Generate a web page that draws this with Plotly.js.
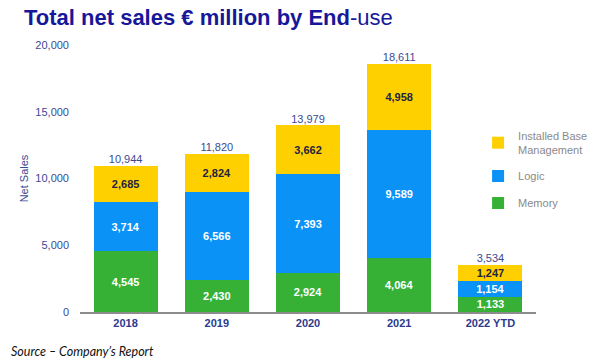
<!DOCTYPE html>
<html>
<head>
<meta charset="utf-8">
<script src="https://cdn.plot.ly/plotly-3.0.1.min.js"></script>
<style>html,body{margin:0;padding:0;background:#fff;}#chart{width:612px;height:363px;}</style>
</head>
<body>
<div id="chart"></div>
<script>
const categories = ["2018", "2019", "2020", "2021", "2022 YTD"];
const memory = [4545, 2430, 2924, 4064, 1133];
const logic = [3714, 6566, 7393, 9589, 1154];
const installedBase = [2685, 2824, 3662, 4958, 1247];
const totals = [10944, 11820, 13979, 18611, 3534];
const yTicks = [0, 5000, 10000, 15000, 20000];
const yTickLabels = ["0", "5,000", "10,000", "15,000", "20,000"];

const fmt = v => v.toLocaleString("en-US");
const FONT = "Liberation Sans, Arial, sans-serif";

function barTrace(name, vals, color, textColor, group, rank) {
  return {
    type: "bar", name: name, x: categories, y: vals,
    marker: {color: color, line: {width: 0}},
    text: vals.map(fmt), textposition: "inside", insidetextanchor: "middle",
    constraintext: "none",
    textfont: {family: FONT, size: 11, color: textColor, weight: "bold"},
    legendgroup: group, legendrank: rank, hoverinfo: "skip"
  };
}

const data = [
  barTrace("Memory", memory, "#36b136", "#ffffff", "c", 3),
  barTrace("Logic", logic, "#0a92f7", "#ffffff", "b", 2),
  barTrace("Installed Base<br>Management", installedBase, "#ffd000", "#1f2440", "a", 1),
  {
    type: "scatter", mode: "text", x: categories, y: totals,
    text: totals.map(fmt), textposition: "top center",
    textfont: {family: FONT, size: 11, color: "#3a4a94"},
    showlegend: false, hoverinfo: "skip", cliponaxis: false
  }
];

const layout = {
  width: 612, height: 363,
  margin: {l: 80, r: 76, t: 45, b: 51},
  paper_bgcolor: "#ffffff", plot_bgcolor: "#ffffff",
  barmode: "stack", bargap: 0.297,
  font: {family: FONT},
  xaxis: {
    type: "category",
    showline: true, linecolor: "#8c8c8c", linewidth: 1.5,
    showgrid: false, zeroline: false, ticks: "",
    tickfont: {family: FONT, size: 11, color: "#2b3a8c", weight: "bold"}
  },
  yaxis: {
    range: [0, 20000], tickvals: yTicks, ticktext: yTickLabels,
    showgrid: false, zeroline: false, showline: false, ticks: "",
    ticklabelstandoff: 10,
    tickfont: {family: FONT, size: 11, color: "#3a4a94"},
    title: {text: "Net Sales", font: {family: FONT, size: 11, color: "#3a4a94"}, standoff: 4}
  },
  legend: {
    x: 0.873, y: 0.712, xanchor: "left", yanchor: "top",
    traceorder: "grouped", tracegroupgap: 8,
    font: {family: FONT, size: 11, color: "#8a8a8a"},
    bgcolor: "rgba(0,0,0,0)"
  },
  showlegend: true,
  annotations: [
    {
      xref: "paper", yref: "paper", x: -0.128, y: 1.0, yshift: 42,
      xanchor: "left", yanchor: "top", showarrow: false,
      text: "<b>Total net sales € million by End</b>-use",
      font: {family: FONT, size: 22, color: "#17179a"}
    },
    {
      xref: "paper", yref: "paper", x: -0.155, y: 0, yshift: -30,
      xanchor: "left", yanchor: "top", showarrow: false,
      text: "<i>Source – Company’s Report</i>",
      font: {family: "Lato, Open Sans, sans-serif", size: 12.5, color: "#111111"}
    }
  ]
};

Plotly.newPlot("chart", data, layout, {displayModeBar: false, staticPlot: true});
</script>
</body>
</html>
